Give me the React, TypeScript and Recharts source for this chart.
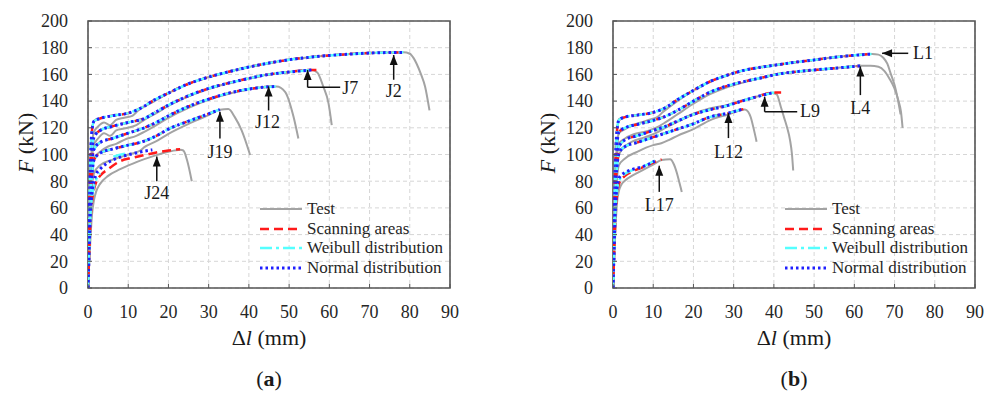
import React from 'react'
import {
  LineChart,
  Line,
  XAxis,
  YAxis,
  CartesianGrid,
  ReferenceArea,
  ReferenceLine,
  ReferenceDot,
  Legend,
} from 'recharts'

type Pair = [number, number | null]

const xTicks = [0, 10, 20, 30, 40, 50, 60, 70, 80, 90]
const yTicks = [0, 20, 40, 60, 80, 100, 120, 140, 160, 180, 200]

// ---- panel (a): J specimens ----
const j2Model: Pair[] = [[0, 0], [0.3, 50], [0.6, 95], [1, 118], [1.5, 125], [3, 127], [6, 129], [10, 131], [13, 134.5], [16, 140], [20, 146], [25, 153], [30, 158], [35, 162], [40, 165.5], [45, 168.5], [50, 171], [55, 172.8], [60, 174.2], [65, 175.2], [70, 176], [78.4, 176.5]]
const j2Test: Pair[] = [[0, 0], [0.3, 40], [0.7, 88], [1, 108], [1.5, 117], [2.5, 121], [4, 124], [5.5, 122], [7, 126], [9, 127.5], [11, 129], [12.5, 133], [16, 139], [20, 146], [25, 153], [30, 158], [35, 162], [40, 165.5], [45, 168.5], [50, 171], [55, 172.8], [60, 174.2], [65, 175.2], [70, 176], [78.4, 176.5], [80, 175.5], [81, 172], [81.7, 168], [82.8, 160], [83.8, 151], [84.9, 133]]

const j7Model: Pair[] = [[0, 0], [0.3, 45], [0.6, 85], [1, 103], [1.5, 113], [3, 118], [6, 121], [10, 124], [14, 127], [17, 132], [20, 137], [25, 144], [30, 149.5], [35, 153.5], [40, 157], [44, 159.5], [50, 161.8], [55.6, 163.3]]
const j7RedTail: Pair[] = [[57.3, 163.3]]
const j7Test: Pair[] = [[0, 0], [0.3, 38], [0.7, 80], [1, 97], [1.5, 107], [2.5, 112], [4, 116], [5.5, 114], [7, 118], [9, 119.5], [12, 122], [14, 126], [17, 131], [20, 136.5], [25, 143.5], [30, 149], [35, 153.5], [40, 157], [44, 159.5], [50, 161.8], [55.6, 163.3], [57, 161.5], [58.5, 150.8], [59.8, 138.3], [60.6, 122]]

const j12Model: Pair[] = [[0, 0], [0.3, 40], [0.6, 75], [1, 95], [1.5, 104], [3, 109], [6, 112], [10, 116], [14, 120], [17, 124], [20, 129], [25, 136], [30, 141.5], [35, 146], [40, 149], [44, 150.5], [46.9, 151]]
const j12Test: Pair[] = [[0, 0], [0.3, 32], [0.7, 70], [1, 88], [1.5, 97], [3, 102], [5, 106], [7, 108], [9, 111], [12, 114], [14, 117], [17, 122], [20, 127.5], [25, 135], [30, 141], [35, 145.5], [40, 148.8], [44, 150.5], [46.9, 151], [49, 147], [51.1, 128.3], [52.3, 112]]

const j19Model: Pair[] = [[0, 0], [0.3, 35], [0.6, 65], [1, 85], [1.5, 96], [3, 101], [6, 104], [10, 107], [14, 110], [17, 114], [20, 119], [25, 125], [30, 130.5], [32.8, 133.8]]
const j19Test: Pair[] = [[0, 0], [0.3, 28], [0.7, 60], [1, 76], [1.5, 86], [3, 92], [6, 96], [10, 100], [13, 103], [14, 105.5], [17, 110], [20, 115.5], [25, 123], [30, 129.5], [32.8, 133.5], [34.9, 134], [36.5, 128], [38.2, 118], [40.3, 99.6]]

const j24Red: Pair[] = [[0, 0], [0.3, 25], [0.6, 50], [1, 65], [1.5, 74], [2, 79], [3, 84], [5, 89], [8, 95], [11, 97.5], [14, 99.5], [17, 101.5], [20, 103], [22.9, 104]]
const j24Cyan: Pair[] = [[0, 0], [0.3, 28], [0.6, 53], [1, 68], [1.5, 76], [2, 81], [3, 86], [4.5, null], [6.3, 98.4], [8, 99.8], [10, 101]]
const j24Blue: Pair[] = [[0, 0], [0.3, 30], [0.6, 56], [1, 71], [1.5, 80], [2, 85], [3, 89], [5, 94], [8, 98], [11, 100.5], [14, 102.5], [16, 103.5]]
const j24Test: Pair[] = [[0, 0], [0.3, 18], [0.7, 42], [1, 55], [1.5, 66], [2, 72], [3, 78], [5, 84], [8, 89], [11, 93], [14, 96.5], [17, 99.5], [20, 102], [23, 103.5], [23.7, 103], [24.7, 95], [25.8, 80]]

// ---- panel (b): L specimens ----
const l1Model: Pair[] = [[0, 0], [0.3, 50], [0.6, 95], [1, 118], [1.5, 126], [3, 128], [6, 129.5], [10, 131.5], [13, 135], [16, 141], [20, 148], [24, 154.5], [28, 159], [32.5, 163], [37, 165.5], [41.6, 167.5], [45, 169], [50, 170.8], [55, 172.8], [60, 174.3], [64.4, 175.3]]
const l1Test: Pair[] = [[0, 0], [0.3, 42], [0.7, 90], [1, 108], [1.5, 116], [3, 119], [5, 122], [7, 124], [9, 126], [11, 128], [12.5, 132], [16, 140], [20, 148], [24, 154.5], [28, 159], [32.5, 163], [37, 165.5], [41.6, 167.5], [45, 169], [50, 170.8], [55, 172.8], [60, 174.3], [64.4, 175.3], [66, 174.8], [67.2, 172.5], [68.2, 168], [69, 161], [70, 152], [70.7, 143], [71.5, 130]]

const l4Model: Pair[] = [[0, 0], [0.3, 45], [0.6, 85], [1, 108], [1.5, 117], [3, 120], [6, 122.5], [10, 125.5], [13, 128.5], [16, 133], [20, 140], [24, 146.5], [28, 151], [32.5, 154.6], [37, 157.5], [41.6, 160.5], [45, 161.8], [50, 163.3], [55, 164.6], [61.5, 166.4]]
const l4Test: Pair[] = [[0, 0], [0.3, 38], [0.7, 80], [1, 98], [1.5, 108], [3, 112], [5, 115], [7, 116.5], [9, 118], [11, 120.5], [13, 124], [16, 130], [20, 138], [24, 145], [28, 150], [32.5, 154], [37, 157.5], [41.6, 160.5], [45, 161.8], [50, 163.3], [55, 164.6], [61.5, 166.4], [64, 166.5], [66, 165.8], [67.5, 162.5], [68.7, 157], [69.9, 150], [71, 140], [71.6, 132], [72, 120]]

const l9Model: Pair[] = [[0, 0], [0.3, 40], [0.6, 76], [1, 96], [1.5, 106], [3, 111], [6, 114], [10, 118], [13, 121], [16, 125], [20, 130], [24, 133.5], [28.3, 136.5], [32, 140], [35.8, 143.3], [40, 146.5]]
const l9RedTail: Pair[] = [[41.8, 146.5]]
const l9Test: Pair[] = [[0, 0], [0.3, 35], [0.7, 72], [1, 90], [1.5, 100], [3, 106], [5, 110], [7, 112], [9, 114], [11, 116.5], [13, 120], [16, 124.5], [20, 130.5], [24, 134.5], [28.3, 137], [32, 140.5], [35.8, 143.5], [38, 145.5], [39.5, 146.3], [40.7, 145], [41.7, 136], [42.5, 128], [43.3, 120], [44, 111], [44.5, 100], [44.8, 88]]

const l12Model: Pair[] = [[0, 0], [0.3, 38], [0.6, 72], [1, 91], [1.5, 101], [3, 106], [6, 109], [10, 113], [13, 116], [16, 119], [20, 123], [24, 128], [28.7, 131], [32, 133.8]]
const l12RedTail: Pair[] = [[32.4, 134]]
const l12Test: Pair[] = [[0, 0], [0.3, 30], [0.7, 65], [1, 82], [1.5, 92], [3, 97], [6, 102], [10, 107], [12, 108.4], [14, 111], [16, 114], [20, 119], [24.2, 125.8], [28.7, 130], [32.8, 133.8], [33.6, 132], [34.2, 128.3], [35, 119], [35.7, 109.6]]

const l17Red: Pair[] = [[0, 0], [0.3, 28], [0.6, 52], [1, 70], [1.5, 78], [2, 81], [3, 84], [5, 87.5], [7.5, 90.5], [10, 94], [12.1, 96.4]]
const l17Cyan: Pair[] = [[0, 0], [0.3, 30], [0.6, 56], [1, 73], [1.5, 80], [2, 83], [3, 85.5], [5, 88.5], [7.5, 91], [10.4, 95.5]]
const l17Blue: Pair[] = [[0, 0], [0.3, 32], [0.6, 60], [1, 75], [1.7, 83.4], [3, 86.5], [5, 89], [7.5, 91], [10.4, 95]]
const l17Test: Pair[] = [[0, 0], [0.3, 22], [0.7, 50], [1, 64], [1.5, 73], [2, 77], [3, 80.5], [5, 84.5], [7.5, 88.5], [10, 92.5], [12.1, 95.8], [14.2, 96.4], [15, 93.5], [15.9, 86], [16.5, 79], [17.1, 72]]

type Specimen = { id: string; test: Pair[]; red: Pair[]; cyan: Pair[]; blue: Pair[] }

const specimensA: Specimen[] = [
  { id: 'J2', test: j2Test, red: j2Model, cyan: j2Model, blue: j2Model },
  { id: 'J7', test: j7Test, red: [...j7Model, ...j7RedTail], cyan: j7Model, blue: j7Model },
  { id: 'J12', test: j12Test, red: j12Model, cyan: j12Model, blue: j12Model },
  { id: 'J19', test: j19Test, red: j19Model, cyan: j19Model, blue: j19Model },
  { id: 'J24', test: j24Test, red: j24Red, cyan: j24Cyan, blue: j24Blue },
]

const specimensB: Specimen[] = [
  { id: 'L1', test: l1Test, red: l1Model, cyan: l1Model, blue: l1Model },
  { id: 'L4', test: l4Test, red: l4Model, cyan: l4Model, blue: l4Model },
  { id: 'L9', test: l9Test, red: [...l9Model, ...l9RedTail], cyan: l9Model, blue: l9Model },
  { id: 'L12', test: l12Test, red: [...l12Model, ...l12RedTail], cyan: l12Model, blue: l12Model },
  { id: 'L17', test: l17Test, red: l17Red, cyan: l17Cyan, blue: l17Blue },
]

type Note = {
  label: string
  path: [number, number][]
  text: [number, number]
  anchor: 'middle' | 'start'
  dir: 'up' | 'left'
}

const notesA: Note[] = [
  { label: 'J2', path: [[76, 174.5], [76, 156]], text: [76, 147.5], anchor: 'middle', dir: 'up' },
  { label: 'J7', path: [[54.6, 163.3], [54.6, 150.3], [62.7, 150.3]], text: [63.2, 149.5], anchor: 'start', dir: 'up' },
  { label: 'J12', path: [[44.9, 151], [44.9, 133]], text: [44.6, 124.5], anchor: 'middle', dir: 'up' },
  { label: 'J19', path: [[32.8, 132], [32.8, 112]], text: [32.8, 102], anchor: 'middle', dir: 'up' },
  { label: 'J24', path: [[17.1, 98.5], [17.1, 80]], text: [17.1, 71.5], anchor: 'middle', dir: 'up' },
]

const notesB: Note[] = [
  { label: 'L1', path: [[66.9, 175.8], [73.4, 175.8]], text: [74.6, 175.8], anchor: 'start', dir: 'left' },
  { label: 'L4', path: [[61.5, 166], [61.5, 144.5]], text: [61.5, 134.6], anchor: 'middle', dir: 'up' },
  { label: 'L9', path: [[37.7, 143.3], [37.7, 132], [45.8, 132]], text: [46.5, 132.5], anchor: 'start', dir: 'up' },
  { label: 'L12', path: [[28.7, 131], [28.7, 112.3]], text: [28.7, 101.5], anchor: 'middle', dir: 'up' },
  { label: 'L17', path: [[11.5, 91.6], [11.5, 72]], text: [11.5, 62.2], anchor: 'middle', dir: 'up' },
]

const legendNames = ['Test', 'Scanning areas', 'Weibull distribution', 'Normal distribution']

const SERIF = '"Liberation Serif", "Times New Roman", serif'
const GRAY = '#a3a3a3'
const RED = '#ff1a1a'
const CYAN = '#55ffff'
const BLUE = '#1f1fff'

const lineStyles = [
  { color: GRAY, dash: undefined as string | undefined, width: 2 },
  { color: RED, dash: '9 5', width: 2.5 },
  { color: CYAN, dash: '12 4 3 4', width: 2.5 },
  { color: BLUE, dash: '2.5 3', width: 3 },
]

const toRows = (a: Pair[]) => a.map(([x, y]) => ({ x, y }))

const textStyle: React.CSSProperties = { fontFamily: SERIF }

const XTick = (p: any) => (
  <g>
    <line x1={p.x} x2={p.x} y1={p.y - 17} y2={p.y - 21} stroke="#555" strokeWidth={1} />
    <text x={p.x} y={p.y} dy="0.71em" textAnchor="middle" fontSize={18} style={textStyle} fill="#262626">
      {p.payload.value}
    </text>
  </g>
)

const YTick = (p: any) => (
  <g>
    <line x1={p.x + 20} x2={p.x + 24} y1={p.y} y2={p.y} stroke="#555" strokeWidth={1} />
    <text x={p.x} y={p.y} dy="0.35em" textAnchor="end" fontSize={18} style={textStyle} fill="#262626">
      {p.payload.value}
    </text>
  </g>
)

function LegendBox() {
  return (
    <div style={{ fontFamily: SERIF, fontSize: 17, color: '#262626' }}>
      {legendNames.map((name, i) => (
        <div key={name} style={{ display: 'flex', alignItems: 'center', height: 19.7 }}>
          <svg width={46} height={10}>
            <line
              x1={2}
              x2={44}
              y1={5}
              y2={5}
              stroke={lineStyles[i].color}
              strokeWidth={lineStyles[i].width}
              strokeDasharray={lineStyles[i].dash}
            />
          </svg>
          <span style={{ marginLeft: 3, whiteSpace: 'nowrap' }}>{name}</span>
        </div>
      ))}
    </div>
  )
}

function Panel({ specimens, notes }: { specimens: Specimen[]; notes: Note[] }) {
  const lines = specimens.flatMap((s) =>
    [s.test, s.red, s.cyan, s.blue].map((arr, i) => (
      <Line
        key={`${s.id}-${i}`}
        data={toRows(arr)}
        dataKey="y"
        type="monotone"
        stroke={lineStyles[i].color}
        strokeWidth={lineStyles[i].width}
        strokeDasharray={lineStyles[i].dash}
        dot={false}
        activeDot={false}
        isAnimationActive={false}
        legendType="none"
      />
    ))
  )

  const arrows = notes.flatMap((n) =>
    n.path.slice(1).map((p, i) => (
      <ReferenceLine
        key={`${n.label}-seg-${i}`}
        segment={[
          { x: n.path[i][0], y: n.path[i][1] },
          { x: p[0], y: p[1] },
        ]}
        stroke="#111"
        strokeWidth={1.5}
        ifOverflow="visible"
      />
    ))
  )

  const heads = notes.map((n) => (
    <ReferenceDot
      key={`${n.label}-head`}
      x={n.path[0][0]}
      y={n.path[0][1]}
      r={3}
      ifOverflow="visible"
      shape={(p: any) =>
        n.dir === 'up' ? (
          <polygon points={`${p.cx},${p.cy} ${p.cx - 4},${p.cy + 10} ${p.cx + 4},${p.cy + 10}`} fill="#111" />
        ) : (
          <polygon points={`${p.cx},${p.cy} ${p.cx + 10},${p.cy - 4} ${p.cx + 10},${p.cy + 4}`} fill="#111" />
        )
      }
    />
  ))

  const labels = notes.map((n) => (
    <ReferenceDot
      key={`${n.label}-text`}
      x={n.text[0]}
      y={n.text[1]}
      r={1}
      ifOverflow="visible"
      shape={(p: any) => (
        <text
          x={p.cx}
          y={p.cy}
          textAnchor={n.anchor}
          dominantBaseline="central"
          fontSize={18}
          style={textStyle}
          fill="#1a1a1a"
        >
          {n.label}
        </text>
      )}
    />
  ))

  return (
    <LineChart width={480} height={330} margin={{ top: 21, right: 30, bottom: 12, left: 28 }}>
      <CartesianGrid stroke="#d6d6d6" strokeDasharray="4 3" />
      <XAxis
        dataKey="x"
        type="number"
        domain={[0, 90]}
        ticks={xTicks}
        axisLine={false}
        tickLine={false}
        tickSize={0}
        tickMargin={17}
        height={30}
        tick={<XTick />}
        allowDataOverflow
      />
      <YAxis
        type="number"
        domain={[0, 200]}
        ticks={yTicks}
        axisLine={false}
        tickLine={false}
        tickSize={0}
        tickMargin={20}
        width={60}
        tick={<YTick />}
        allowDataOverflow
      />
      {lines}
      <ReferenceArea x1={0} x2={90} y1={0} y2={200} fill="none" stroke="#555" strokeWidth={1.6} ifOverflow="visible" />
      {arrows}
      {heads}
      {labels}
      <Legend
        layout="horizontal"
        verticalAlign="middle"
        align="center"
        wrapperStyle={{ left: 258, top: 199, width: 'auto' }}
        content={() => <LegendBox />}
      />
    </LineChart>
  )
}

const centered = (left: number, top: number): React.CSSProperties => ({
  position: 'absolute',
  left,
  top,
  transform: 'translate(-50%, -50%)',
  whiteSpace: 'nowrap',
  fontFamily: SERIF,
  color: '#1a1a1a',
})

function AxisTitles({ cx, yx, letter }: { cx: number; yx: number; letter: string }) {
  return (
    <>
      <div style={{ ...centered(yx, 143), transform: 'translate(-50%, -50%) rotate(-90deg)', fontSize: 22 }}>
        <i>F</i> (kN)
      </div>
      <div style={{ ...centered(cx, 338), fontSize: 22 }}>
        Δ<i>l</i> (mm)
      </div>
      <div style={{ ...centered(cx, 379), fontSize: 22 }}>
        (<b>{letter}</b>)
      </div>
    </>
  )
}

export default function App() {
  return (
    <div style={{ position: 'absolute', left: 0, top: 0, width: 989, height: 399, background: '#fff' }}>
      <div style={{ position: 'absolute', left: 0, top: 0 }}>
        <Panel specimens={specimensA} notes={notesA} />
      </div>
      <div style={{ position: 'absolute', left: 525, top: 0 }}>
        <Panel specimens={specimensB} notes={notesB} />
      </div>
      <AxisTitles cx={269} yx={26} letter="a" />
      <AxisTitles cx={794} yx={548} letter="b" />
    </div>
  )
}
